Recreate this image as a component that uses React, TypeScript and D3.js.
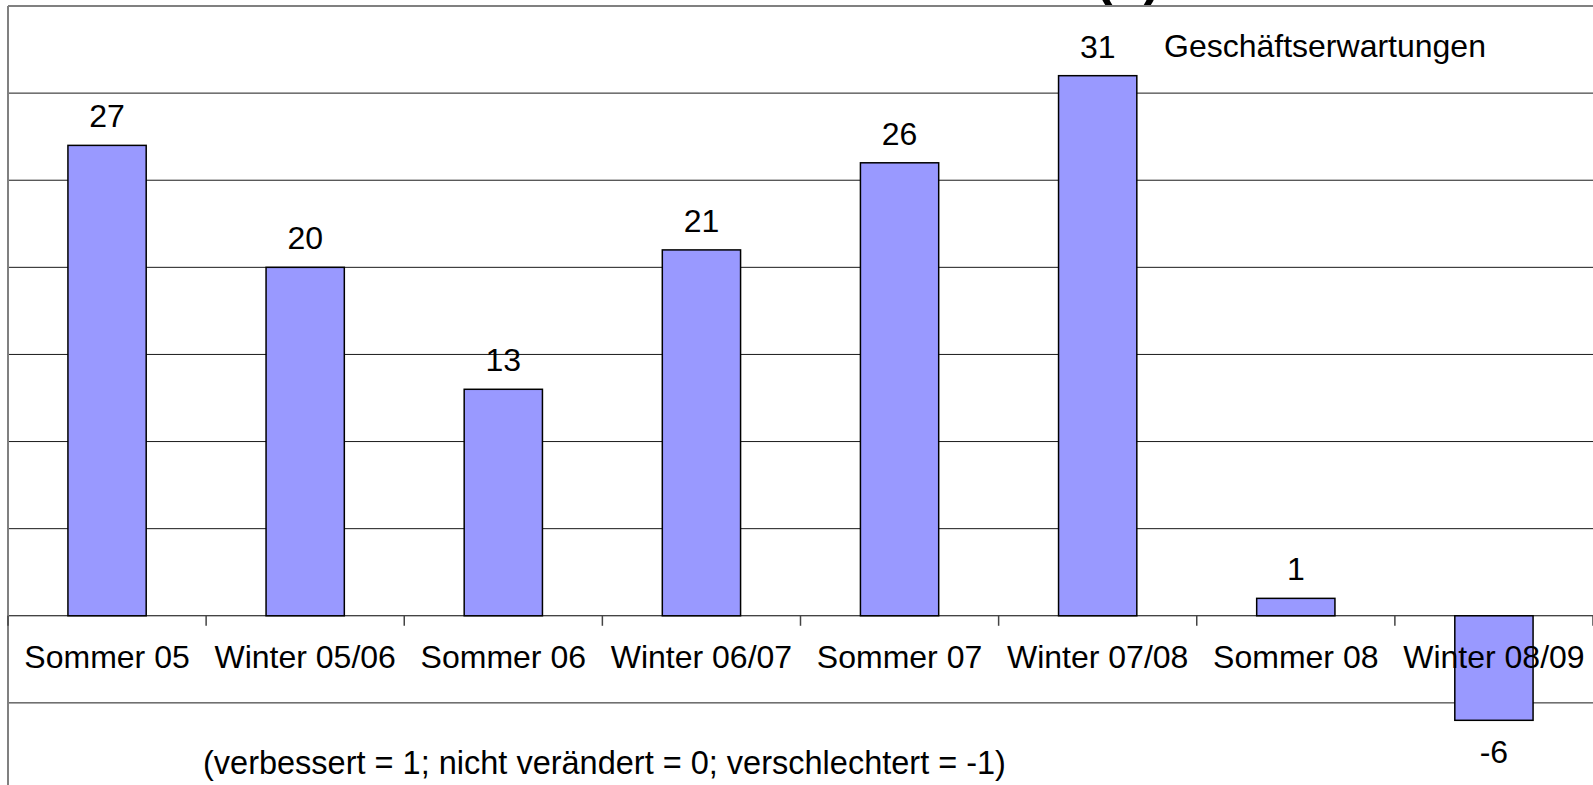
import { useMemo } from "react";
import * as d3 from "d3";

const categories = [
  "Sommer 05",
  "Winter 05/06",
  "Sommer 06",
  "Winter 06/07",
  "Sommer 07",
  "Winter 07/08",
  "Sommer 08",
  "Winter 08/09",
];
const values = [27, 20, 13, 21, 26, 31, 1, -6];
const gridTicks = [-5, 0, 5, 10, 15, 20, 25, 30];
const seriesName = "Geschäftserwartungen";
const note = "(verbessert = 1; nicht verändert = 0; verschlechtert = -1)";
const title = "(1)";

const width = 1593;
const height = 785;
const font = "'Liberation Sans', Arial, sans-serif";

export default function App() {
  const plot = { left: 8, right: 1593, top: 6, bottom: 790 };

  const x = useMemo(
    () =>
      d3
        .scaleBand()
        .domain(categories)
        .range([plot.left, plot.right])
        .paddingInner(0.605)
        .paddingOuter(0.3025),
    []
  );
  const y = useMemo(
    () => d3.scaleLinear().domain([-10, 35]).range([plot.bottom, plot.top]),
    []
  );
  const tickX = d3
    .range(categories.length + 1)
    .map((i) => plot.left + i * x.step());

  return (
    <svg
      width={width}
      height={height}
      style={{ position: "fixed", left: 0, top: 0, background: "#fff" }}
      fontFamily={font}
    >
      {/* title, mostly cut off above the frame */}
      <text
        x={1128}
        y={-4}
        textAnchor="middle"
        fontSize={52}
        fontWeight="bold"
        fill="#000"
      >
        {title}
      </text>

      {gridTicks.map((t) => (
        <line
          key={t}
          x1={plot.left}
          x2={plot.right}
          y1={y(t)}
          y2={y(t)}
          stroke={t === 0 ? "#000" : "#1a1a1a"}
          strokeWidth={1}
        />
      ))}

      {/* plot frame */}
      <line x1={plot.left} x2={plot.right} y1={plot.top} y2={plot.top} stroke="#808080" strokeWidth={2} />
      <line x1={plot.left} x2={plot.left} y1={plot.top} y2={height} stroke="#808080" strokeWidth={2} />

      {categories.map((c, i) => {
        const v = values[i];
        const y0 = y(0);
        const yv = y(v);
        return (
          <rect
            key={c}
            x={x(c)}
            y={Math.min(y0, yv)}
            width={x.bandwidth()}
            height={Math.abs(y0 - yv)}
            fill="#9999FF"
            stroke="#000"
            strokeWidth={1.5}
          />
        );
      })}

      {/* category axis */}
      {tickX.map((tx, i) => (
        <line key={i} x1={tx} x2={tx} y1={y(0)} y2={y(0) + 10} stroke="#444" strokeWidth={1.5} />
      ))}
      {categories.map((c) => (
        <text
          key={c}
          x={(x(c) ?? 0) + x.bandwidth() / 2}
          y={668}
          textAnchor="middle"
          fontSize={32}
          fill="#000"
        >
          {c}
        </text>
      ))}

      {/* value labels */}
      {categories.map((c, i) => {
        const v = values[i];
        const cx = (x(c) ?? 0) + x.bandwidth() / 2;
        return (
          <text
            key={c}
            x={cx}
            y={v >= 0 ? y(v) - 18 : y(v) + 43}
            textAnchor="middle"
            fontSize={32}
            fill="#000"
          >
            {v}
          </text>
        );
      })}

      <text x={1164} y={57} fontSize={32} fill="#000">
        {seriesName}
      </text>
      <text x={203} y={774} fontSize={32.5} fill="#000">
        {note}
      </text>
    </svg>
  );
}
